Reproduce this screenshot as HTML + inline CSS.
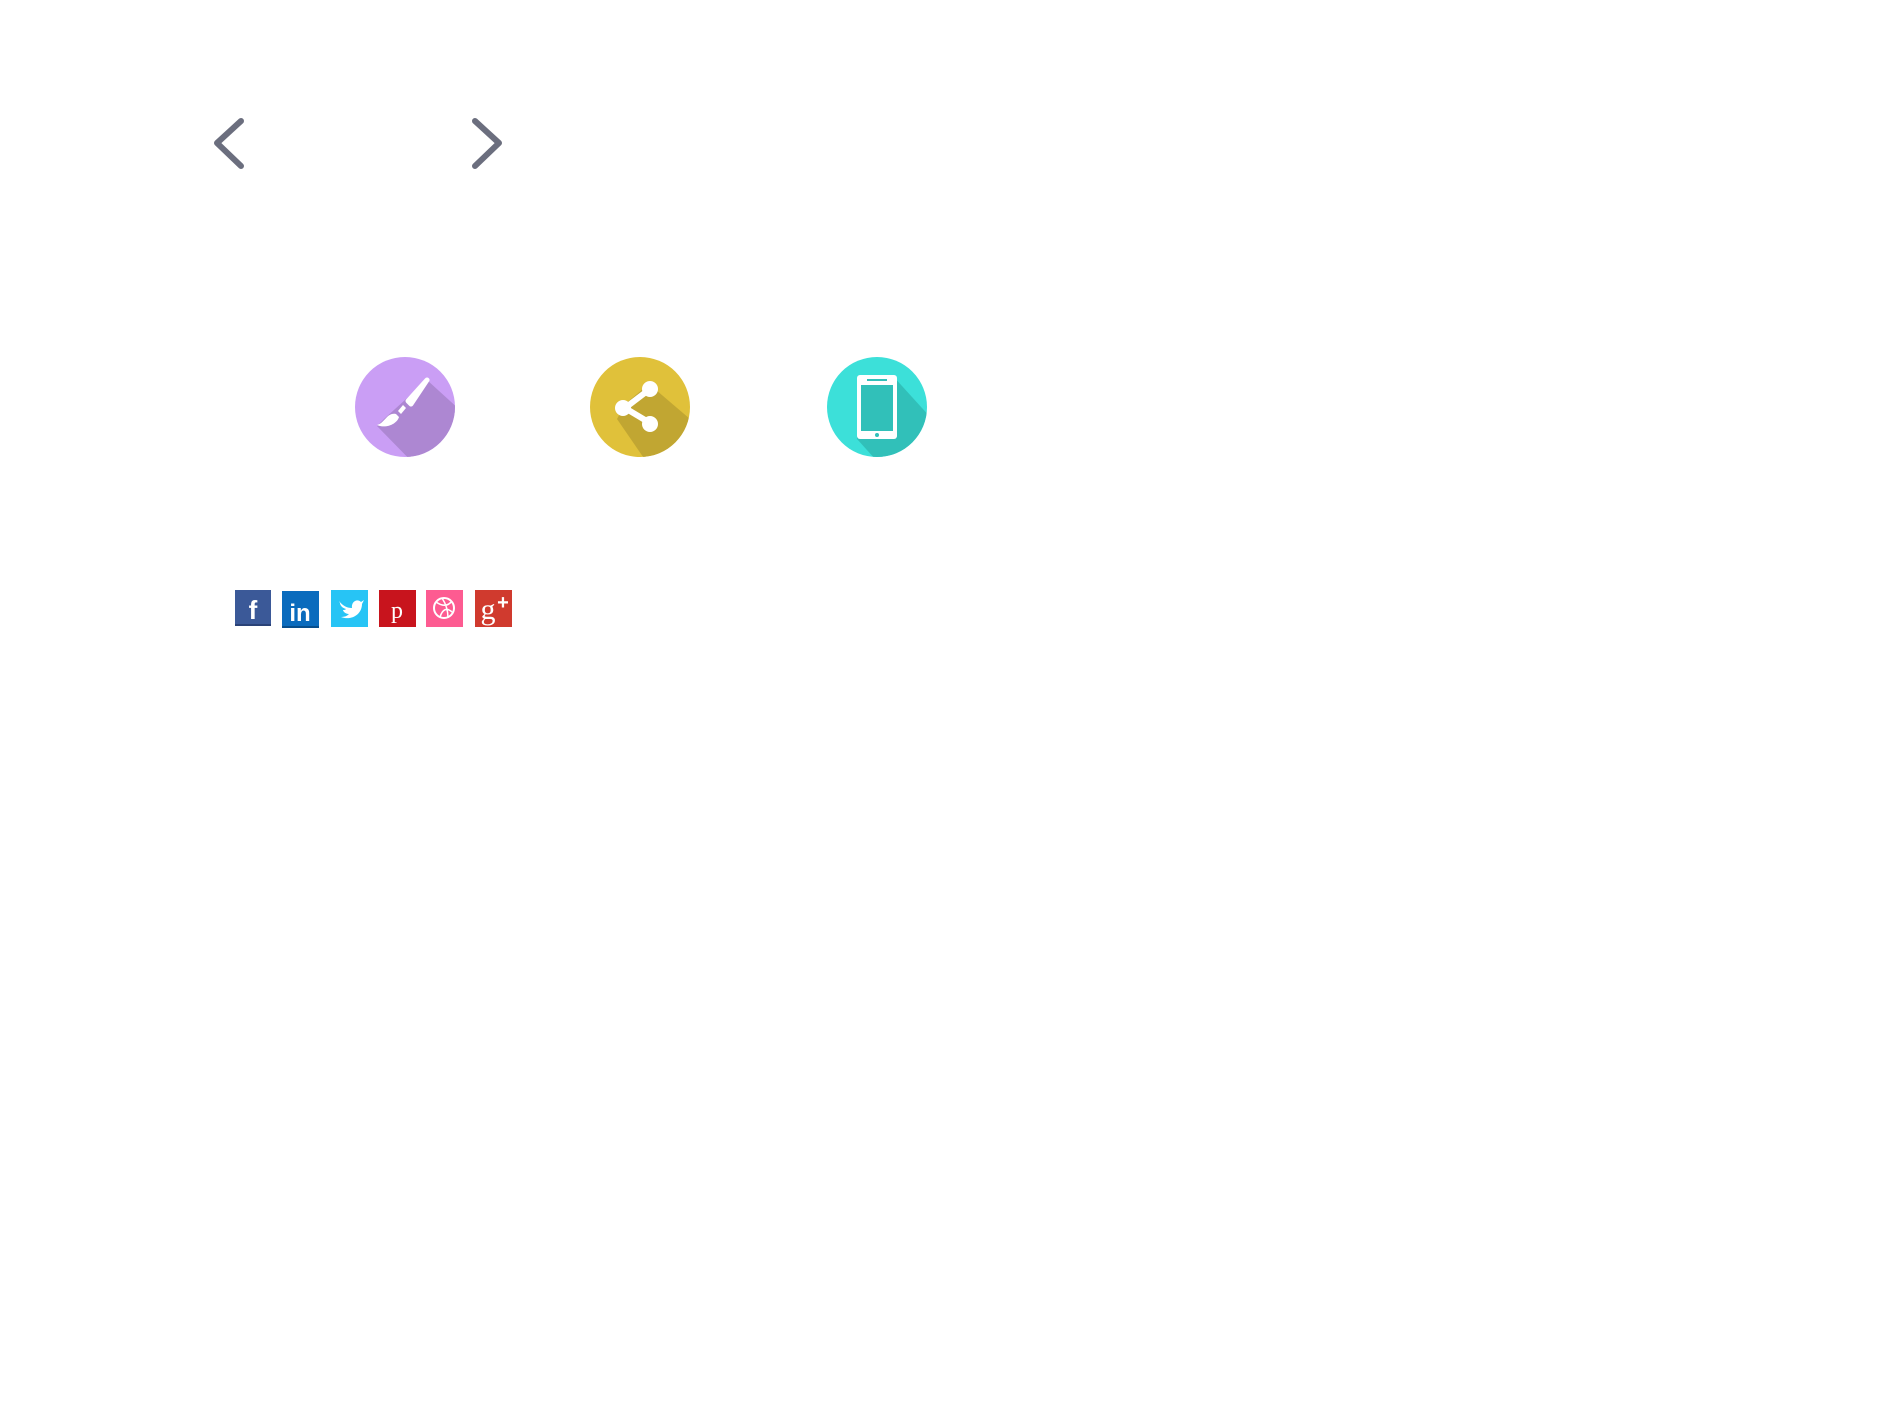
<!DOCTYPE html>
<html><head><meta charset="utf-8"><style>
html,body{margin:0;padding:0;background:#fff;width:1890px;height:1417px;overflow:hidden;font-family:"Liberation Sans",sans-serif}
svg{position:absolute;left:0;top:0}
</style></head><body>
<svg width="1890" height="1417" viewBox="0 0 1890 1417">
<defs>
<clipPath id="c1"><circle cx="405" cy="407" r="50"/></clipPath>
<clipPath id="c2"><circle cx="640" cy="407" r="50"/></clipPath>
<clipPath id="c3"><circle cx="877" cy="407" r="50"/></clipPath>
</defs>
<g><polyline points="241,121 217,143 241,166" fill="none" stroke="#6b6e7e" stroke-width="6" stroke-linecap="round" stroke-linejoin="round"/></g>
<g><polyline points="475,121 499,143 475,166" fill="none" stroke="#6b6e7e" stroke-width="6" stroke-linecap="round" stroke-linejoin="round"/></g>

<g transform="translate(-1,-1)">
<circle cx="406" cy="408" r="50" fill="#ca9ef5"/>
<polygon clip-path="url(#c1)" transform="translate(1,1)" points="427,380 460,410 460,470 420,470 377,426 384,419" fill="#ad87d2"/>
<path d="M428,381 L412,405 L409,402 Z" fill="#fff" stroke="#fff" stroke-width="5" stroke-linejoin="round"/>
<path d="M404,406 L399,412 L402,415 L407,409 Z" fill="#fff"/>
<path d="M397,415 C388,413 386,424 378,426 C387,430 398,425 400,418 Z" fill="#fff"/>
</g>

<g transform="translate(-3,-1)">
<circle cx="643" cy="408" r="50" fill="#e0c13a"/>
<polygon clip-path="url(#c2)" transform="translate(3,1)" points="649,384 690,419 690,470 652,470 617,419 625,404" fill="#c1a632"/>
<line x1="653" y1="390" x2="628" y2="409" stroke="#fff" stroke-width="6"/>
<line x1="628" y1="409" x2="653" y2="424" stroke="#fff" stroke-width="6"/>
<circle cx="653" cy="390" r="8" fill="#fff"/>
<circle cx="626" cy="409" r="8" fill="#fff"/>
<circle cx="653" cy="425" r="8" fill="#fff"/>
</g>

<g transform="translate(-3,-1)">
<circle cx="880" cy="408" r="50" fill="#3ce0d9"/>
<polygon clip-path="url(#c3)" transform="translate(3,1)" points="892,375 932,419 932,470 885,470 857,439 857,379" fill="#31c0b9"/>
<rect x="860" y="376" width="40" height="64" rx="3" fill="#fff"/>
<rect x="864" y="386" width="32" height="46" fill="#31c0b9"/>
<rect x="870" y="380" width="20" height="2" fill="#31c0b9"/>
<circle cx="880" cy="436" r="2" fill="#31c0b9"/>
</g>

<g transform="translate(0,-3)">
<g><rect x="235" y="593" width="36" height="36" fill="#3b5998"/><rect x="235" y="627" width="36" height="2" fill="#2a4277"/><text x="253" y="622" font-size="26" font-weight="bold" fill="#fff" text-anchor="middle">f</text></g>
<g><rect x="282" y="594" width="37" height="37" fill="#0a6bbd"/><rect x="282" y="629" width="37" height="2" fill="#074e8c"/><text x="300" y="624" font-size="24" font-weight="bold" fill="#fff" text-anchor="middle">in</text></g>
<g><rect x="331" y="593" width="37" height="37" fill="#27c4f5"/><path d="M339,604 C343,609 347,611 352,611 C351,605 357,601 361,605 L364,603 L362,607 C362,617 352,624 341,620 C346,620 348,618 349,617 C345,617 343,614 343,613 C344,613 345,613 346,612 C342,611 340,608 340,606 Z" fill="#fff"/></g>
<g><rect x="379" y="593" width="37" height="37" fill="#c8141d"/><text x="397" y="621" font-size="24" fill="#fff" text-anchor="middle" font-family="Liberation Serif">p</text></g>
<g><rect x="426" y="593" width="37" height="37" fill="#fd5b91"/><circle cx="444" cy="611" r="10" fill="none" stroke="#fff" stroke-width="2"/><path d="M436,605 Q446,612 452,604 M440,620 Q444,608 452,615 M442,601 Q448,610 448,621" fill="none" stroke="#fff" stroke-width="1.5"/></g>
<g><rect x="475" y="593" width="37" height="37" fill="#d03a2e"/><text x="488" y="622" font-size="30" fill="#fff" text-anchor="middle" font-family="Liberation Serif">g</text><text x="503" y="612" font-size="20" font-weight="bold" fill="#fff" text-anchor="middle">+</text></g>
</g>
</svg>
</body></html>
